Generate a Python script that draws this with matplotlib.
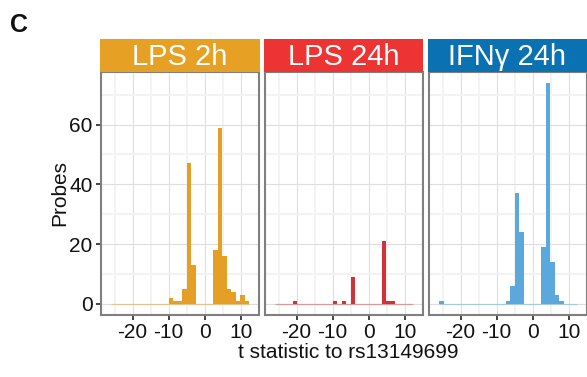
import matplotlib.pyplot as plt
from matplotlib.ticker import MultipleLocator

plt.rcParams['font.family'] = ['Liberation Sans', 'DejaVu Sans']

# Data: histogram bins (shared) and counts per panel
bin_edges = [-25.96, -24.72, -23.49, -22.25, -21.02, -19.78, -18.55, -17.31,
             -16.08, -14.84, -13.61, -12.37, -11.14, -9.90, -8.67, -7.43,
             -6.20, -4.96, -3.73, -2.49, -1.26, -0.02, 1.22, 2.45, 3.69,
             4.92, 6.16, 7.39, 8.63, 9.86, 11.10, 12.33]

counts_lps2h = [0, 0, 0, 0, 0, 0, 0, 0, 0, 0, 0, 0, 0,
                2, 1, 1, 5, 47, 13, 0, 0, 0, 0, 18, 59, 16, 5, 4, 1, 3, 1]
counts_lps24h = [0, 0, 0, 0, 1, 0, 0, 0, 0, 0, 0, 0, 0,
                 1, 0, 1, 0, 9, 0, 0, 0, 0, 0, 0, 21, 1, 1, 0, 0, 0, 0]
counts_ifng = [1, 0, 0, 0, 0, 0, 0, 0, 0, 0, 0, 0, 0,
               0, 0, 1, 6, 37, 24, 0, 0, 0, 0, 19, 74, 14, 3, 1, 0, 0, 0]

panels = ["LPS 2h", "LPS 24h", "IFN\u03b3 24h"]
panel_counts = [counts_lps2h, counts_lps24h, counts_ifng]
bar_colors = ["#E69F25", "#D13237", "#5BA8DC"]
strip_colors = ["#E6A024", "#EE3333", "#0A72B2"]

W, H = 587, 377
fig = plt.figure(figsize=(W / 100, H / 100), dpi=100)

def px_box(left, top, width, height):
    return [left / W, 1 - (top + height) / H, width / W, height / H]

panel_top, panel_bottom = 72, 315
panel_w = 158
lefts = [101, 265, 429]

widths = [b - a for a, b in zip(bin_edges[:-1], bin_edges[1:])]

for i, (name, counts) in enumerate(zip(panels, panel_counts)):
    ax = fig.add_axes(px_box(lefts[i], panel_top, panel_w, panel_bottom - panel_top))
    ax.set_xlim(-28.75, 15.1)
    ax.set_ylim(-3.7, 77.6)
    ax.xaxis.set_major_locator(MultipleLocator(10))
    ax.xaxis.set_minor_locator(MultipleLocator(5))
    ax.yaxis.set_major_locator(MultipleLocator(20))
    ax.yaxis.set_minor_locator(MultipleLocator(10))
    ax.grid(which='major', color='#DEDEDE', lw=0.8)
    ax.grid(which='minor', color='#F3F3F3', lw=1.4)
    ax.set_axisbelow(True)
    ax.hlines(0, bin_edges[0], bin_edges[-1], color=bar_colors[i], alpha=0.4, lw=0.9)
    ax.bar(bin_edges[:-1], counts, width=widths, align='edge',
           color=bar_colors[i], linewidth=0)
    for sp in ax.spines.values():
        sp.set_color('#7F7F7F')
        sp.set_linewidth(1.5)
    ax.tick_params(which='major', length=3.5, width=1.2, color='#222222',
                   labelsize=15, pad=2.5, labelcolor='#111111')
    ax.tick_params(which='minor', length=0)
    ax.set_xticks([-20, -10, 0, 10])
    ax.set_xticklabels(["-20", "-10", "0", "10"])
    if i > 0:
        ax.tick_params(axis='y', left=False, labelleft=False)

    sax = fig.add_axes(px_box(lefts[i] - 1.5, 39, panel_w + 2, 32.5))
    sax.set_facecolor(strip_colors[i])
    sax.set_xticks([])
    sax.set_yticks([])
    for sp in sax.spines.values():
        sp.set_visible(False)
    sax.text(0.5, 0.45, name, color='white', fontsize=21,
             ha='center', va='center', transform=sax.transAxes)

fig.text(348 / W, 1 - 353 / H, "t statistic to rs13149699", ha='center', va='center',
         fontsize=15, color='#111111')
fig.text(60 / W, 1 - 193 / H, "Probes", ha='center', va='center', rotation=90,
         fontsize=15, color='#111111')
fig.text(19 / W, 1 - 25 / H, "C", ha='center', va='center', fontsize=18,
         fontweight='bold', color='#111111')

fig.savefig("out.png", dpi=100)
